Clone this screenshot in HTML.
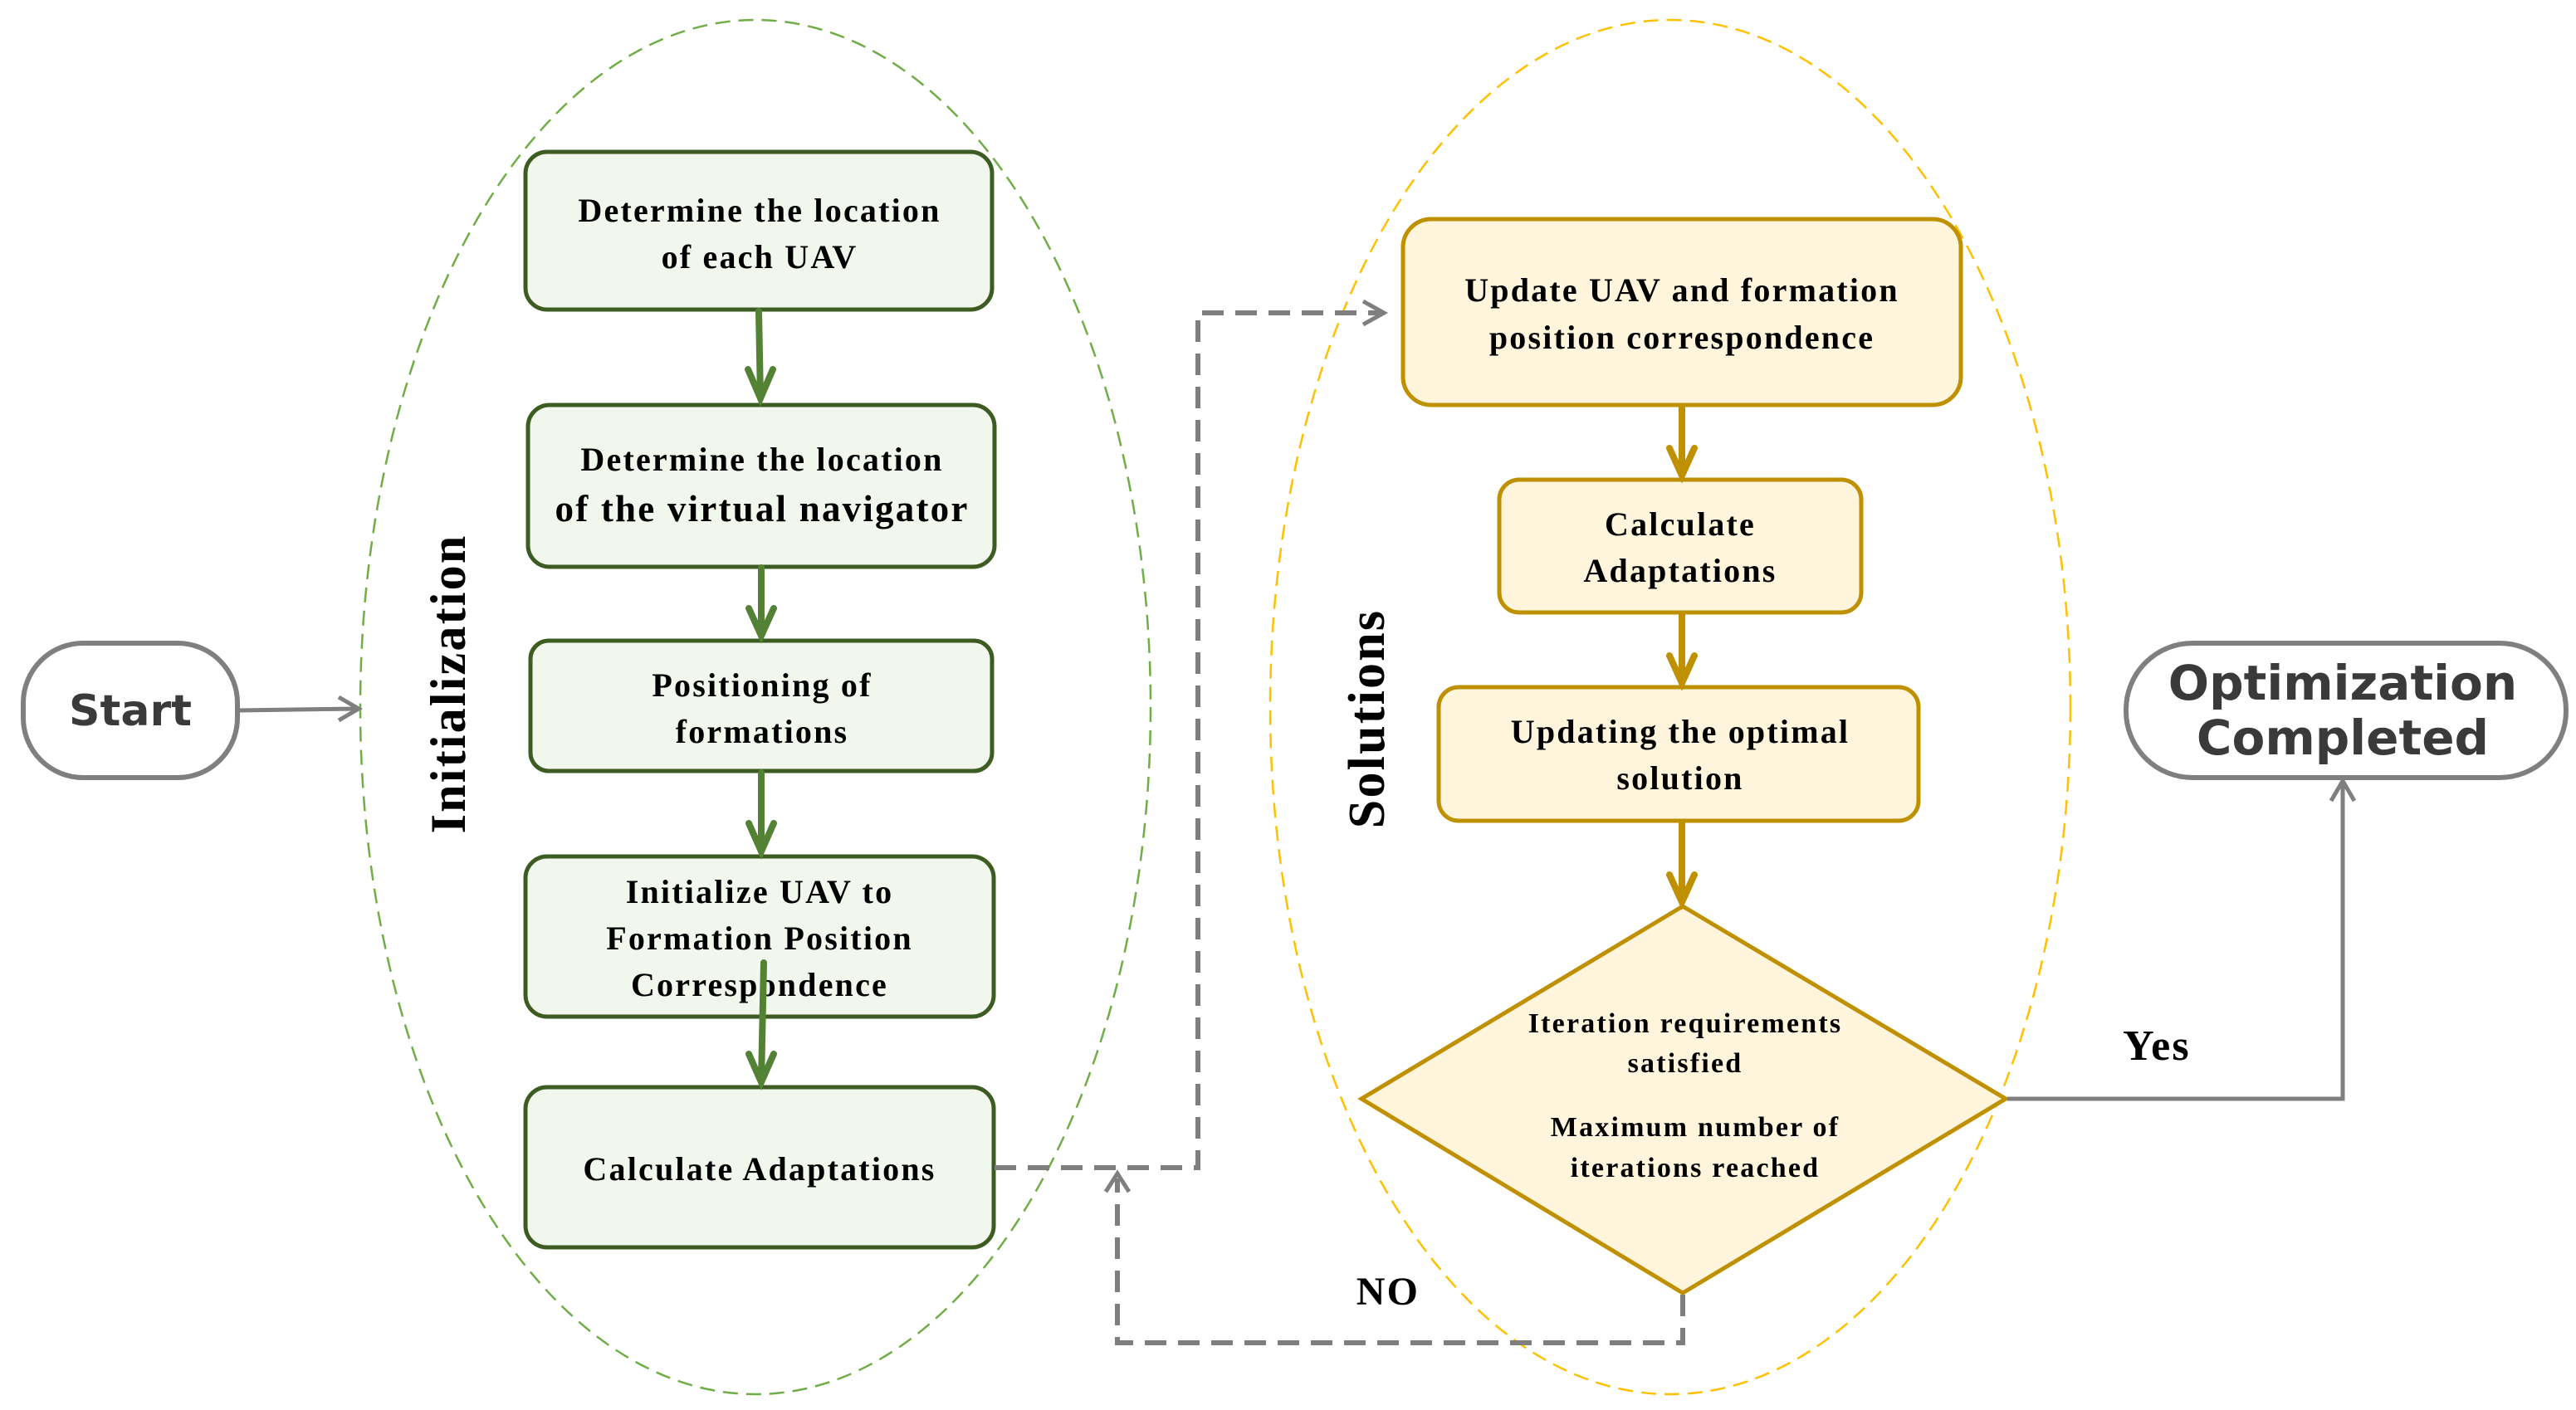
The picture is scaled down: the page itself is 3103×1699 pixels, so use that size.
<!DOCTYPE html>
<html><head><meta charset="utf-8"><style>
html,body{margin:0;padding:0;background:#fff;}
svg{display:block;}
.t{font-family:"Liberation Serif",serif;font-weight:bold;fill:#000;text-anchor:middle;letter-spacing:2.2px;}
.s{font-family:"DejaVu Sans","Liberation Sans",sans-serif;font-weight:bold;fill:#3a3a3a;text-anchor:middle;}
</style></head><body>
<svg width="3103" height="1699" viewBox="0 0 3103 1699" xmlns="http://www.w3.org/2000/svg">
<ellipse cx="910" cy="852" rx="476" ry="828" fill="none" stroke="#70ad47" stroke-width="2.5" stroke-dasharray="18,10"/>
<ellipse cx="2012" cy="852" rx="482" ry="828" fill="none" stroke="#ffc000" stroke-width="2.5" stroke-dasharray="18,10"/>

<rect x="28" y="775" width="258" height="162" rx="72" fill="#fff" stroke="#7f7f7f" stroke-width="6"/>
<text class="s" x="157" y="874" font-size="52">Start</text>
<path d="M287 856 L430 854" stroke="#7f7f7f" stroke-width="5" fill="none"/>
<path d="M408 840 L432 854 L408 868" stroke="#7f7f7f" stroke-width="5" fill="none"/>

<text class="t" font-size="60" letter-spacing="0" transform="translate(560,824) rotate(-90)">Initialization</text>

<g fill="#f1f7ec" stroke="#3d5c22" stroke-width="5">
<rect x="633" y="183" width="562" height="190" rx="26"/>
<rect x="636" y="488" width="562" height="195" rx="26"/>
<rect x="639" y="772" width="556" height="157" rx="22"/>
<rect x="633" y="1032" width="564" height="193" rx="26"/>
<rect x="633" y="1310" width="564" height="193" rx="26"/>
</g>
<g class="t" font-size="40">
<text x="915" y="267">Determine the location</text>
<text x="915" y="323">of each UAV</text>
<text x="918" y="567">Determine the location</text>
<text x="918" y="628" font-size="45">of the virtual navigator</text>
<text x="918" y="839">Positioning of</text>
<text x="918" y="895">formations</text>
<text x="915" y="1088">Initialize UAV to</text>
<text x="915" y="1144">Formation Position</text>
<text x="915" y="1200">Correspondence</text>
<text x="915" y="1422">Calculate Adaptations</text>
</g>
<g stroke="#548235" stroke-width="8" fill="none" stroke-linecap="round">
<path d="M914 375 L916 480"/><path d="M901 445 L916 480 L931 445"/>
<path d="M917 684 L917 764"/><path d="M902 733 L917 766 L932 733"/>
<path d="M917 931 L917 1024"/><path d="M902 992 L917 1026 L932 992"/>
<path d="M920 1160 L917 1302"/><path d="M902 1270 L917 1304 L932 1270"/>
</g>

<g stroke="#7f7f7f" stroke-width="6" fill="none" stroke-dasharray="26,14">
<path d="M1198 1407 L1443 1407 L1443 377 L1665 377"/>
<path d="M2027 1560 L2027 1618 L1346 1618 L1346 1420"/>
</g>
<path d="M1642 363 L1667 377 L1642 391" stroke="#7f7f7f" stroke-width="5" fill="none"/>
<path d="M1332 1436 L1346 1414 L1360 1436" stroke="#7f7f7f" stroke-width="5" fill="none"/>

<text class="t" font-size="62" letter-spacing="0" transform="translate(1667,866) rotate(-90)">Solutions</text>

<g fill="#fff4dc" stroke="#bf9000" stroke-width="5">
<rect x="1690" y="264" width="672" height="224" rx="34"/>
<rect x="1806" y="578" width="436" height="160" rx="24"/>
<rect x="1733" y="828" width="578" height="161" rx="24"/>
<polygon points="2027,1092 2416,1324 2027,1558 1640,1324"/>
</g>
<g class="t" font-size="40">
<text x="2026" y="363">Update UAV and formation</text>
<text x="2026" y="420">position correspondence</text>
<text x="2024" y="645">Calculate</text>
<text x="2024" y="701">Adaptations</text>
<text x="2024" y="895">Updating the optimal</text>
<text x="2024" y="951">solution</text>
</g>
<g class="t" font-size="34" letter-spacing="2">
<text x="2030" y="1244">Iteration requirements</text>
<text x="2030" y="1292">satisfied</text>
<text x="2042" y="1369">Maximum number of</text>
<text x="2042" y="1418">iterations reached</text>
</g>
<g stroke="#bf9000" stroke-width="8" fill="none" stroke-linecap="round">
<path d="M2026 490 L2026 569"/><path d="M2011 540 L2026 573 L2041 540"/>
<path d="M2026 740 L2026 819"/><path d="M2011 790 L2026 823 L2041 790"/>
<path d="M2026 991 L2026 1083"/><path d="M2011 1054 L2026 1087 L2041 1054"/>
</g>

<rect x="2561" y="775" width="530" height="162" rx="80" fill="#fff" stroke="#7f7f7f" stroke-width="6"/>
<text class="s" x="2822" y="843" font-size="58">Optimization</text>
<text class="s" x="2822" y="909" font-size="58">Completed</text>
<path d="M2418 1324 L2822 1324 L2822 943" stroke="#7f7f7f" stroke-width="5" fill="none"/>
<path d="M2808 965 L2822 941 L2836 965" stroke="#7f7f7f" stroke-width="5" fill="none"/>

<text class="t" x="2598" y="1277" font-size="52" letter-spacing="0">Yes</text>
<text class="t" x="1672" y="1572" font-size="48" letter-spacing="0">NO</text>
</svg>
</body></html>
